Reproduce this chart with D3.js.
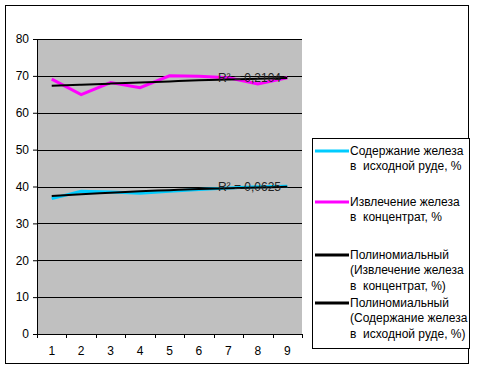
<!DOCTYPE html>
<html>
<head>
<meta charset="utf-8">
<script src="https://cdn.jsdelivr.net/npm/d3@7"></script>
<style>
  body { margin: 0; background: #fff; }
  svg text { font-family: "Liberation Sans", Arial, sans-serif; fill: #000; white-space: pre; }
</style>
</head>
<body>
<div class="chart"></div>
<script>
// DATA ------------------------------
const categories = [1, 2, 3, 4, 5, 6, 7, 8, 9]
const yTicks = [0, 10, 20, 30, 40, 50, 60, 70, 80]
const ironContent = [36.7, 38.7, 38.5, 38.2, 38.7, 39.2, 39.6, 39.9, 40.1]
const ironRecovery = [69.1, 64.9, 68.2, 66.8, 70.0, 69.9, 69.5, 67.8, 69.5]
// trendline values
const trendRecovery = [67.3, 67.6, 67.9, 68.2, 68.5, 68.8, 69.0, 69.2, 69.4]
const trendContent = [37.4, 37.9, 38.3, 38.7, 39.0, 39.3, 39.5, 39.7, 39.9]
const r2Labels = ["R² = 0,2104", "R² = 0,0625"]
const legendItems = [
  {lines: ["Содержание железа", "в  исходной руде, %"], color: "#00ccff"},
  {lines: ["Извлечение железа", "в  концентрат, %"], color: "#ff00ff"},
  {lines: ["Полиномиальный", "(Извлечение железа", "в  концентрат, %)"], color: "#000"},
  {lines: ["Полиномиальный", "(Содержание железа", "в  исходной руде, %)"], color: "#000"}
]

// MARGIN CONVENTION
const margin = ({top: 39, right: 175, bottom: 36, left: 37})
const W = 477, H = 370
const width = W - margin.left - margin.right
const height = H - margin.top - margin.bottom

const root = d3.select(".chart").append("svg")
  .attr("width", W).attr("height", H)

// outer frame
root.append("rect")
  .attr("x", 5.5).attr("y", 5.5)
  .attr("width", 463).attr("height", 358)
  .attr("fill", "none").attr("stroke", "#000")

const svg = root.append("g")
  .attr("transform", `translate(${margin.left},${margin.top})`)

let xScale = d3.scaleBand().domain(categories).range([0, width])
let yScale = d3.scaleLinear().domain([0, 80]).range([height, 0])
const xc = d => xScale(d) + xScale.bandwidth() / 2

// plot background
svg.append("rect")
  .attr("width", width).attr("height", height)
  .attr("fill", "#c0c0c0")

// gridlines
svg.selectAll(".grid").data(yTicks.filter(d => d > 0)).enter()
  .append("line")
  .attr("x1", 0).attr("x2", width)
  .attr("y1", d => Math.round(yScale(d)) + 0.5)
  .attr("y2", d => Math.round(yScale(d)) + 0.5)
  .attr("stroke", "#000")

// axes
let yAxis = d3.axisLeft(yScale).tickValues(yTicks).tickSize(4).tickPadding(4)
let xAxis = d3.axisBottom(xScale).tickSize(0).tickPadding(12)
svg.append("g").attr("class", "axis y-axis").call(yAxis)
  .call(g => g.select(".domain").attr("d", `M0.5,0V${height}`))
  .selectAll("text").style("font-size", "12px")

const xg = svg.append("g").attr("class", "axis x-axis")
  .attr("transform", `translate(0,${height})`)
  .call(xAxis)
xg.select(".domain").attr("d", `M0,0.5H${width}`)
xg.selectAll("text").style("font-size", "12px")
// tick marks between categories
xg.selectAll(".sep").data(d3.range(categories.length + 1)).enter()
  .append("line")
  .attr("x1", i => Math.round(i * xScale.bandwidth()) + 0.5)
  .attr("x2", i => Math.round(i * xScale.bandwidth()) + 0.5)
  .attr("y1", 0).attr("y2", 4)
  .attr("stroke", "#000")

const line = d3.line().x((d, i) => xc(categories[i])).y(d => yScale(d))
const smooth = d3.line().x((d, i) => xc(categories[i])).y(d => yScale(d))
  .curve(d3.curveMonotoneX)

svg.append("path").datum(ironRecovery).attr("d", line)
  .attr("fill", "none").attr("stroke", "#ff00ff").attr("stroke-width", 3)
svg.append("path").datum(ironContent).attr("d", line)
  .attr("fill", "none").attr("stroke", "#00ccff").attr("stroke-width", 3)
svg.append("path").datum(trendRecovery).attr("d", smooth)
  .attr("fill", "none").attr("stroke", "#000").attr("stroke-width", 2)
svg.append("path").datum(trendContent).attr("d", smooth)
  .attr("fill", "none").attr("stroke", "#000").attr("stroke-width", 2)

// R² labels
svg.selectAll(".r2").data(r2Labels).enter()
  .append("text")
  .attr("x", xc(6) + 19)
  .attr("y", (d, i) => yScale(i == 0 ? 69.5 : 40) + 4)
  .style("font-size", "12px")
  .style("fill", "#222")
  .text(d => d)

// LEGEND ---------------------------
const lg = root.append("g")
lg.append("rect")
  .attr("x", 312.5).attr("y", 138.5)
  .attr("width", 157).attr("height", 210)
  .attr("fill", "#fff").attr("stroke", "#000")

const lineH = 15.3
const starts = [151, 202, 255, 303]
legendItems.forEach((item, k) => {
  const y0 = starts[k]
  lg.append("line")
    .attr("x1", 315).attr("x2", 349)
    .attr("y1", y0).attr("y2", y0)
    .attr("stroke", item.color).attr("stroke-width", 3)
  item.lines.forEach((t, j) => {
    lg.append("text")
      .attr("x", 350).attr("y", y0 + j * lineH + 4)
      .style("font-size", "12px")
      .text(t)
  })
})
</script>
</body>
</html>
